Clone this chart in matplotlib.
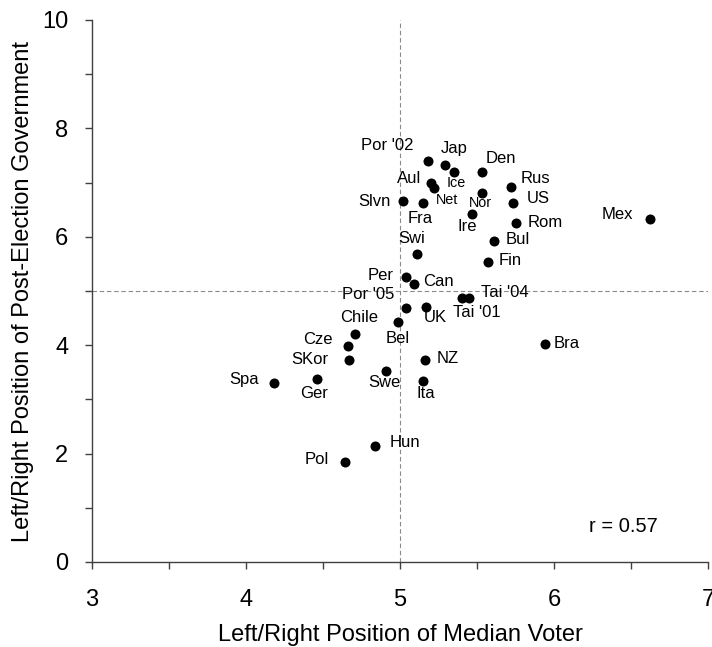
import matplotlib
matplotlib.use('Agg')
import matplotlib.pyplot as plt
from matplotlib.ticker import MultipleLocator

plt.rcParams['font.family'] = ['Liberation Sans', 'DejaVu Sans']

# ---- data ----
countries = ["Por '02", "Jap", "Ice", "Den", "Aul", "Net", "Rus", "Nor", "Slvn",
             "Fra", "US", "Ire", "Rom", "Bul", "Swi", "Fin", "Per", "Can",
             "Tai '04", "Tai '01", "Por '05", "UK", "Bel", "Chile", "Cze", "SKor",
             "NZ", "Swe", "Ita", "Bra", "Spa", "Ger", "Hun", "Pol", "Mex"]
median_voter = [5.18, 5.29, 5.35, 5.53, 5.20, 5.22, 5.72, 5.53, 5.02,
                5.15, 5.73, 5.47, 5.75, 5.61, 5.11, 5.57, 5.04, 5.09,
                5.45, 5.40, 5.04, 5.17, 4.99, 4.71, 4.66, 4.67,
                5.16, 4.91, 5.15, 5.94, 4.18, 4.46, 4.84, 4.64, 6.62]
government = [7.40, 7.32, 7.19, 7.20, 6.99, 6.90, 6.91, 6.81, 6.66,
              6.63, 6.63, 6.42, 6.26, 5.92, 5.69, 5.54, 5.25, 5.13,
              4.88, 4.88, 4.68, 4.71, 4.42, 4.21, 3.99, 3.73,
              3.73, 3.53, 3.34, 4.02, 3.30, 3.38, 2.14, 1.84, 6.32]
x_ticks = [3, 4, 5, 6, 7]
y_ticks = [0, 2, 4, 6, 8, 10]
r_text = "r = 0.57"

# ---- label placement (pixel offsets from each dot) ----
label_offsets = {
    "Por '02": (-40, 15.7), "Jap": (9.3, 16.3), "Ice": (2.3, -10.3),
    "Den": (19.3, 13), "Aul": (-21.7, 4.7), "Net": (13.3, -11.7),
    "Rus": (24.3, 9), "Nor": (-1, -10), "Slvn": (-28.3, 0),
    "Fra": (-3.3, -15.7), "US": (26, 4), "Ire": (-5.3, -12.3),
    "Rom": (29.3, 0), "Bul": (23.7, 2), "Swi": (-5.7, 14.7),
    "Fin": (22, 1.7), "Per": (-26, 2.3), "Can": (24.3, 2),
    "Tai '04": (35, 5), "Tai '01": (15.3, -14.7), "Por '05": (-38, 14),
    "UK": (8.7, -10.7), "Bel": (-1, -16), "Chile": (4, 16.7),
    "Cze": (-29.3, 6.7), "SKor": (-39, 0), "NZ": (22.7, 1.7),
    "Swe": (-2, -12), "Ita": (3, -13), "Bra": (21.3, 0.7),
    "Spa": (-29.3, 3.3), "Ger": (-2.7, -14.7), "Hun": (29.3, 3.7),
    "Pol": (-27.3, 2.3), "Mex": (-32.7, 4.7),
}
small_labels = {"Ice", "Net", "Nor"}

W, H = 712, 647
fig = plt.figure(figsize=(W / 100, H / 100), dpi=100)
ax = fig.add_axes([91.7 / W, 1 - 562 / H, (708.3 - 91.7) / W, (562 - 20) / H])

ax.set_xlim(3, 7)
ax.set_ylim(0, 10)

# reference lines
ax.axvline(5, color='#8a8a8a', lw=0.8, ls=(0, (4, 2.5)), zorder=1)
ax.axhline(5, color='#8a8a8a', lw=0.8, ls=(0, (4, 2.5)), zorder=1)

ax.scatter(median_voter, government, s=52, color='black', zorder=3, linewidths=0)

for name, xv, yv in zip(countries, median_voter, government):
    dx, dy = label_offsets[name]
    fs = 10.4 if name in small_labels else 12
    ax.annotate(name, (xv, yv), xytext=(dx, dy), textcoords='offset pixels',
                ha='center', va='center', fontsize=fs, color='black')

ax.text(6.45, 0.66, r_text, ha='center', va='center', fontsize=14.5)

for s in ['top', 'right']:
    ax.spines[s].set_visible(False)
for s in ['left', 'bottom']:
    ax.spines[s].set_color('#404040')
    ax.spines[s].set_linewidth(1)

ax.set_xticks(x_ticks)
ax.set_yticks(y_ticks)
ax.xaxis.set_minor_locator(MultipleLocator(0.5))
ax.yaxis.set_minor_locator(MultipleLocator(1))
ax.tick_params(which='both', direction='out', length=4.8, width=1, color='#404040')
ax.tick_params(axis='x', which='major', labelsize=17, pad=15)
ax.tick_params(axis='y', which='major', labelsize=17, pad=12)

ax.set_xlabel("Left/Right Position of Median Voter", fontsize=17, labelpad=9)
ax.set_ylabel("Left/Right Position of Post-Election Government", fontsize=17, labelpad=6)

fig.savefig('out.png', dpi=100)
